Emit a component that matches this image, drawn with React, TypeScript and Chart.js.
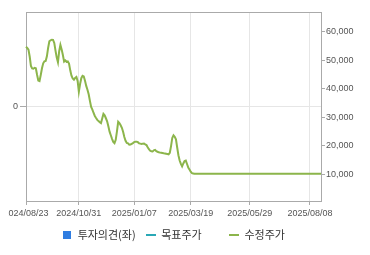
import { useEffect, useRef } from 'react';
import { Chart, registerables } from 'chart.js';

Chart.register(...registerables);

// ---- data ----
const FIRST_DATE = '2024-08-23';
const LAST_DATE = '2025-08-22';
const HOLIDAYS = [
  '2024-09-16', '2024-09-17', '2024-09-18', '2024-10-01', '2024-10-03', '2024-10-09',
  '2024-12-25', '2024-12-31', '2025-01-01', '2025-01-27', '2025-01-28', '2025-01-29',
  '2025-01-30', '2025-03-03', '2025-05-01', '2025-05-05', '2025-05-06', '2025-06-03',
  '2025-06-06', '2025-08-15',
];
const TICK_LABELS = ['2024/08/23', '2024/10/31', '2025/01/07', '2025/03/19', '2025/05/29', '2025/08/08'];

// 수정주가 (adjusted close), one value per trading day
const PRICE = [
  54700, 54300, 53700, 51300, 48000, 47100, 47000, 47350, 47200, 44900,
  42900, 42700, 44800, 47150, 48900, 49600, 49750, 51350, 54300, 56600,
  57000, 57200, 57150, 56050, 53350, 50900, 49250, 53150, 55350, 53800,
  51800, 49500, 49900, 49450, 49600, 48850, 46450, 44550, 43600, 43150,
  43800, 44150, 42750, 38950, 41650, 43700, 44500, 44300, 42800, 41000,
  39650, 38050, 35750, 33600, 32700, 31500, 30450, 29750, 29100, 28650,
  28250, 27950, 29600, 31200, 30700, 29650, 28600, 26850, 24950, 23700,
  22450, 21350, 20900, 22100, 25050, 28400, 27950, 27200, 26300, 24950,
  23050, 21750, 21000, 20850, 20400, 20450, 20700, 20950, 21300, 21450,
  21450, 21250, 20850, 20750, 20600, 20750, 20800, 20500, 20250, 19450,
  18800, 18250, 18100, 18000, 18400, 18550, 18100, 17900, 17700, 17600,
  17550, 17450, 17350, 17300, 17200, 17100, 17000, 17550, 19900, 22750,
  23650, 23150, 22250, 19400, 16700, 14850, 13650, 12800, 13800, 14650,
  14800, 13600, 12400, 11700, 10900, 10400, 10300,
  10200, 10200, 10200, 10200, 10200, 10200, 10200, 10200, 10200, 10200,
  10200, 10200, 10200, 10200, 10200, 10200, 10200, 10200, 10200, 10200,
  10200, 10200, 10200, 10200, 10200, 10200, 10200, 10200, 10200, 10200,
  10200, 10200, 10200, 10200, 10200, 10200, 10200, 10200, 10200, 10200,
  10200, 10200, 10200, 10200, 10200, 10200, 10200, 10200, 10200, 10200,
  10200, 10200, 10200, 10200, 10200, 10200, 10200, 10200, 10200, 10200,
  10200, 10200, 10200, 10200, 10200, 10200, 10200, 10200, 10200, 10200,
  10200, 10200, 10200, 10200, 10200, 10200, 10200, 10200, 10200, 10200,
  10200, 10200, 10200, 10200, 10200, 10200, 10200, 10200, 10200, 10200,
  10200, 10200, 10200, 10200, 10200, 10200, 10200, 10200, 10200, 10200,
  10200, 10200, 10200, 10200,
];
const TARGET: (number | null)[] = [];
const OPINION: (number | null)[] = [];

const LEGEND_TEXT = ['투자의견(좌)', '목표주가', '수정주가'];
const LEFT_TICKS = [0];
const RIGHT_TICKS = [10000, 20000, 30000, 40000, 50000, 60000];
const LEFT_MIN = -1;
const LEFT_MAX = 1;
const RIGHT_MIN = 640;
const RIGHT_MAX = 66900;

// ---- styles ----
const C_OPINION = '#2f7de1';
const C_TARGET = '#2aa8b6';
const C_PRICE = '#8cb54b';
const C_FRAME = '#aaaaaa';
const C_GRID = '#e6e6e6';
const TICK_FONT = { family: "'Liberation Sans', Arial, sans-serif", size: 9 };
const LEGEND_FONT = { family: "'Noto Sans CJK KR', sans-serif", size: 11 };

function tradingDays(): string[] {
  const out: string[] = [];
  const d = new Date(FIRST_DATE + 'T00:00:00Z');
  const end = new Date(LAST_DATE + 'T00:00:00Z');
  while (d <= end) {
    const dow = d.getUTCDay();
    const iso = d.toISOString().slice(0, 10);
    if (dow !== 0 && dow !== 6 && !HOLIDAYS.includes(iso)) out.push(iso.replace(/-/g, '/'));
    d.setUTCDate(d.getUTCDate() + 1);
  }
  return out;
}

function marker(color: string, w: number, h: number) {
  const c = document.createElement('canvas');
  c.width = w;
  c.height = h;
  const g = c.getContext('2d')!;
  g.fillStyle = color;
  g.fillRect(0, 0, w, h);
  return c;
}

const framePlugin = {
  id: 'topFrame',
  afterDraw(chart: any) {
    const { ctx, chartArea: a } = chart;
    ctx.save();
    ctx.strokeStyle = C_FRAME;
    ctx.lineWidth = 1;
    ctx.beginPath();
    ctx.moveTo(a.left, Math.round(a.top) + 0.5);
    ctx.lineTo(a.right, Math.round(a.top) + 0.5);
    ctx.stroke();
    ctx.restore();
  },
};

export default function App() {
  const ref = useRef<HTMLCanvasElement>(null);

  useEffect(() => {
    const labels = tradingDays();
    const markers = [marker(C_OPINION, 8, 8), marker(C_TARGET, 10, 2), marker(C_PRICE, 10, 2)];
    const legendTexts = [LEGEND_TEXT[0], LEGEND_TEXT[1] + '       ', LEGEND_TEXT[2]];

    const chart = new Chart(ref.current!, {
      data: {
        labels,
        datasets: [
          { type: 'bar', label: LEGEND_TEXT[0], data: OPINION, yAxisID: 'y', backgroundColor: C_OPINION },
          { type: 'line', label: LEGEND_TEXT[1], data: TARGET, yAxisID: 'y1', borderColor: C_TARGET, borderWidth: 2, pointRadius: 0 },
          { type: 'line', label: LEGEND_TEXT[2], data: PRICE, yAxisID: 'y1', borderColor: C_PRICE, borderWidth: 2, pointRadius: 0, tension: 0 },
        ],
      } as any,
      options: {
        responsive: false,
        animation: false,
        events: [],
        layout: { padding: { top: 4, left: 0, right: 0, bottom: 0 } },
        plugins: {
          tooltip: { enabled: false },
          legend: {
            position: 'bottom',
            fullSize: false,
            labels: {
              usePointStyle: true,
              pointStyleWidth: 10,
              boxHeight: 8,
              padding: 10,
              color: '#333',
              font: LEGEND_FONT,
              generateLabels: () =>
                legendTexts.map((t, i) => ({
                  text: t,
                  fillStyle: 'transparent',
                  strokeStyle: 'transparent',
                  lineWidth: 0,
                  pointStyle: markers[i] as any,
                  hidden: false,
                  datasetIndex: i,
                  fontColor: '#333',
                })),
            },
          },
        },
        scales: {
          x: {
            type: 'category',
            offset: false,
            afterBuildTicks: (s: any) => {
              s.ticks = TICK_LABELS.map((l) => ({ value: labels.indexOf(l) })).filter((t) => t.value >= 0);
            },
            afterFit: (s: any) => {
              s.height = 18;
              s.paddingLeft = 0;
              s.paddingRight = 0;
            },
            grid: { color: C_GRID, tickColor: C_FRAME, tickLength: 4, offset: false },
            border: { color: C_FRAME },
            ticks: { autoSkip: false, maxRotation: 0, padding: 3, color: '#555', font: TICK_FONT },
          },
          y: {
            type: 'linear',
            position: 'left',
            min: LEFT_MIN,
            max: LEFT_MAX,
            afterBuildTicks: (s: any) => {
              s.ticks = LEFT_TICKS.map((v) => ({ value: v }));
            },
            afterFit: (s: any) => {
              s.width = 18;
              s.paddingTop = 0;
              s.paddingBottom = 0;
            },
            grid: { color: C_GRID, tickColor: C_FRAME, tickLength: 6 },
            border: { color: C_FRAME },
            ticks: { padding: 2, color: '#555', font: TICK_FONT, callback: (v: any) => String(v) },
          },
          y1: {
            type: 'linear',
            position: 'right',
            min: RIGHT_MIN,
            max: RIGHT_MAX,
            afterBuildTicks: (s: any) => {
              s.ticks = RIGHT_TICKS.map((v) => ({ value: v }));
            },
            afterFit: (s: any) => {
              s.width = 41;
              s.paddingTop = 0;
              s.paddingBottom = 0;
            },
            grid: { drawOnChartArea: false, tickColor: C_FRAME, tickLength: 4 },
            border: { color: C_FRAME },
            ticks: {
              padding: 1,
              color: '#555',
              font: TICK_FONT,
              callback: (v: any) => String(v).replace(/\B(?=(\d{3})+(?!\d))/g, ','),
            },
          },
        },
      } as any,
      plugins: [framePlugin],
    });
    return () => chart.destroy();
  }, []);

  return (
    <div style={{ width: 354, height: 242, marginBottom: -3 }}>
      <canvas ref={ref} width={354} height={242} style={{ display: 'block' }} />
    </div>
  );
}
